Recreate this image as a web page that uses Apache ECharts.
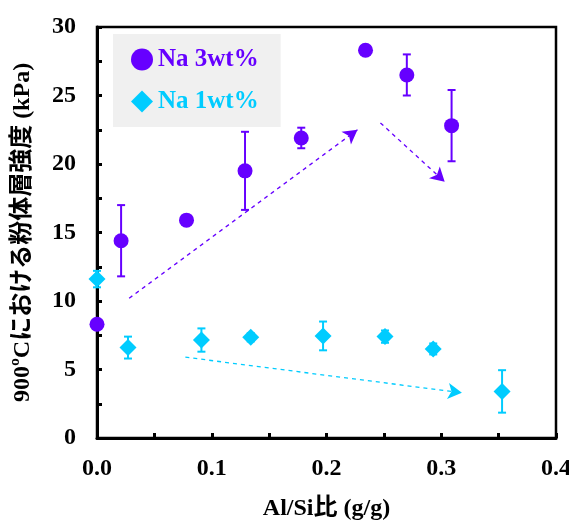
<!DOCTYPE html>
<html>
<head>
<meta charset="utf-8">
<script src="https://cdn.jsdelivr.net/npm/echarts@6/dist/echarts.min.js"></script>
<style>html,body{margin:0;padding:0;background:#fff;}#c{width:569px;height:520px;}</style>
</head>
<body>
<div id="c"></div>
<script>
const na3X = [0.0, 0.021, 0.078, 0.129, 0.178, 0.234, 0.270, 0.309];
const na3Y = [8.3, 14.4, 15.9, 19.5, 21.9, 28.3, 26.5, 22.8];
const na3Err = [0, 2.6, 0.3, 2.85, 0.75, 0, 1.5, 2.6];
const na1X = [0.0, 0.027, 0.091, 0.134, 0.197, 0.251, 0.293, 0.353];
const na1Y = [11.6, 6.6, 7.15, 7.35, 7.45, 7.4, 6.5, 3.4];
const na1Err = [0.6, 0.8, 0.85, 0.3, 1.05, 0.45, 0.4, 1.55];
const arrows3 = [[[0.028, 10.2], [0.227, 22.5]], [[0.247, 23.0], [0.303, 18.7]]];
const arrows1 = [[[0.077, 5.9], [0.318, 3.3]]];
const xTicks = [0.0, 0.1, 0.2, 0.3, 0.4];
const yTicks = [0, 5, 10, 15, 20, 25, 30];

const C3 = '#6600ff', C1 = '#00ccff';
const serif = '"Liberation Serif","DejaVu Serif",serif';
const jp = '"Liberation Serif","Noto Sans CJK JP",serif';

function errData(xs, ys, es) {
  return xs.map((x, i) => [x, ys[i] - es[i], ys[i] + es[i]]).filter((d, i) => es[i] > 0);
}
function errSeries(data, color) {
  return {
    type: 'custom', silent: true, z: 3,
    renderItem: function (params, api) {
      const x = api.value(0);
      const lo = api.coord([x, api.value(1)]);
      const hi = api.coord([x, api.value(2)]);
      const w = 4;
      const st = { stroke: color, lineWidth: 2 };
      return { type: 'group', children: [
        { type: 'line', shape: { x1: lo[0], y1: lo[1], x2: hi[0], y2: hi[1] }, style: st },
        { type: 'line', shape: { x1: lo[0] - w, y1: lo[1], x2: lo[0] + w, y2: lo[1] }, style: st },
        { type: 'line', shape: { x1: hi[0] - w, y1: hi[1], x2: hi[0] + w, y2: hi[1] }, style: st }
      ]};
    },
    data: data
  };
}
function arrowLines(list) {
  return list.map(a => [{ coord: a[0] }, { coord: a[1] }]);
}

const chart = echarts.init(document.getElementById('c'));
chart.setOption({
  animation: false,
  backgroundColor: '#fff',
  grid: { left: 97, right: 13, top: 27, bottom: 82, show: true, borderColor: '#000', borderWidth: 2.5,
          containLabel: false, outerBoundsMode: 'none' },
  legend: {
    left: 113, top: 34, orient: 'vertical',
    backgroundColor: '#f0f0f0', borderRadius: 0,
    padding: [13, 22, 13, 18], itemGap: 17, itemWidth: 22, itemHeight: 22,
    selectedMode: false,
    textStyle: { fontFamily: serif, fontWeight: 'bold', fontSize: 25 },
    data: [
      { name: 'Na 3wt%', icon: 'circle', textStyle: { color: C3 } },
      { name: 'Na 1wt%', icon: 'diamond', textStyle: { color: C1 } }
    ]
  },
  xAxis: {
    type: 'value', min: 0, max: 0.4, interval: 0.1,
    name: 'Al/Si比 (g/g)', nameLocation: 'middle', nameGap: 59,
    nameTextStyle: { fontFamily: jp, fontWeight: 'bold', fontSize: 24, color: '#000' },
    axisLine: { show: true, onZero: false, lineStyle: { color: '#000', width: 3 } },
    axisTick: { show: true, inside: true, length: 5, lineStyle: { color: '#000', width: 3 } },
    minorTick: { show: true, splitNumber: 2, length: 5, lineStyle: { color: '#000', width: 3 } },
    splitLine: { show: false },
    axisLabel: { margin: 19, fontFamily: serif, fontWeight: 'bold', fontSize: 24, color: '#000',
      formatter: v => xTicks.some(t => Math.abs(t - v) < 1e-9) ? v.toFixed(1) : '' }
  },
  yAxis: {
    type: 'value', min: 0, max: 30, interval: 5,
    name: '900ºCにおける粉体層強度 (kPa)', nameLocation: 'middle', nameGap: 62,
    nameTextStyle: { fontFamily: jp, fontWeight: 'bold', fontSize: 24, color: '#000' },
    axisLine: { show: true, onZero: false, lineStyle: { color: '#000', width: 3 } },
    axisTick: { show: true, inside: true, length: 5, lineStyle: { color: '#000', width: 3 } },
    minorTick: { show: true, splitNumber: 2, length: 5, lineStyle: { color: '#000', width: 3 } },
    splitLine: { show: false },
    axisLabel: { margin: 21, fontFamily: serif, fontWeight: 'bold', fontSize: 24, color: '#000',
      formatter: v => yTicks.indexOf(v) >= 0 ? String(v) : '' }
  },
  series: [
    errSeries(errData(na3X, na3Y, na3Err), C3),
    errSeries(errData(na1X, na1Y, na1Err), C1),
    {
      name: 'Na 3wt%', type: 'scatter', symbol: 'circle', symbolSize: 15, clip: false, z: 4,
      itemStyle: { color: C3, opacity: 1 },
      data: na3X.map((x, i) => [x, na3Y[i]]),
      markLine: {
        silent: true, symbol: ['none', 'arrow'], symbolSize: [12, 14], label: { show: false },
        lineStyle: { color: C3, type: [4, 4], width: 1.3 },
        data: arrowLines(arrows3)
      }
    },
    {
      name: 'Na 1wt%', type: 'scatter', symbol: 'diamond', symbolSize: 17, clip: false, z: 4,
      itemStyle: { color: C1, opacity: 1 },
      data: na1X.map((x, i) => [x, na1Y[i]]),
      markLine: {
        silent: true, symbol: ['none', 'arrow'], symbolSize: [12, 14], label: { show: false },
        lineStyle: { color: C1, type: [4, 4], width: 1.3 },
        data: arrowLines(arrows1)
      }
    }
  ]
});
</script>
</body>
</html>
